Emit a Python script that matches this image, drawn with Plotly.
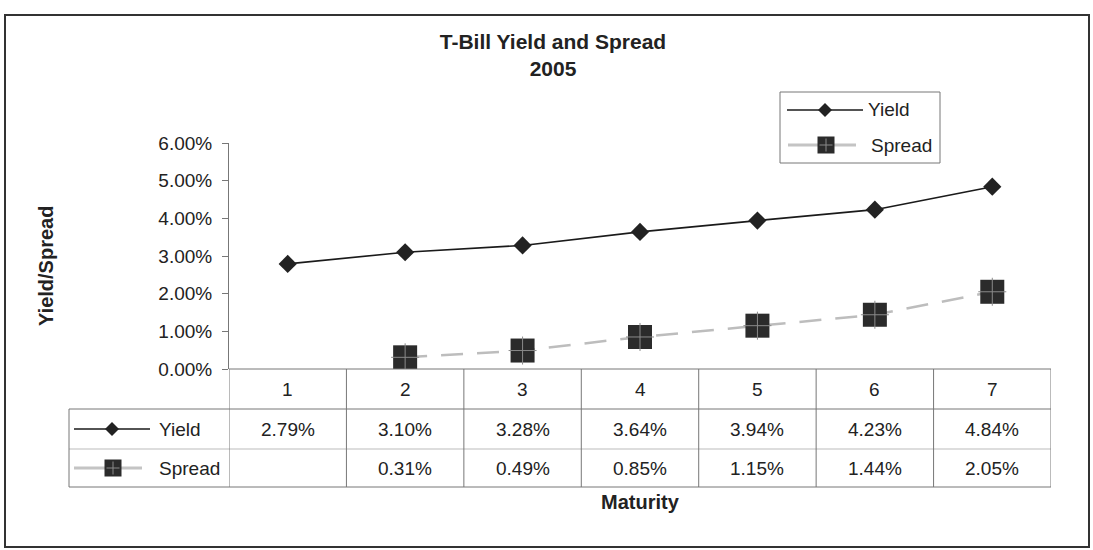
import plotly.graph_objects as go

# ---- data ----
maturity = ["1", "2", "3", "4", "5", "6", "7"]
yield_vals = [0.0279, 0.0310, 0.0328, 0.0364, 0.0394, 0.0423, 0.0484]
spread_vals = [None, 0.0031, 0.0049, 0.0085, 0.0115, 0.0144, 0.0205]
y_ticks = [0.0, 0.01, 0.02, 0.03, 0.04, 0.05, 0.06]
title_lines = ["T-Bill Yield and Spread", "2005"]
series_names = ["Yield", "Spread"]

W, H = 1093, 550
OFF = 0  # body margin removed via post_script
FONT = "Liberation Sans, Arial, sans-serif"
TXT = "#222222"


def px(x):
    return (x - OFF) / W


def py(y):
    return 1 - (y - OFF) / H


# plot area in screen pixels
PL, PR, PT, PB = 229, 1051, 143, 369
ROW1, ROW2, ROW3 = 409, 449, 487
TAB_L = 69

fig = go.Figure()

fig.add_trace(go.Scatter(
    x=maturity, y=yield_vals, name=series_names[0], mode="lines+markers",
    line=dict(color="#1a1a1a", width=1.6),
    marker=dict(symbol="diamond", size=14, color="#222222"),
    showlegend=False,
))
fig.add_trace(go.Scatter(
    x=maturity, y=spread_vals, name=series_names[1], mode="lines+markers",
    line=dict(color="#bdbdbd", width=2.5, dash="22px,14px"),
    marker=dict(symbol="square", size=24, color="#2b2b2b"),
    showlegend=False, connectgaps=False,
))
fig.add_trace(go.Scatter(
    x=maturity, y=spread_vals, mode="markers", hoverinfo="skip",
    marker=dict(symbol="cross-thin", size=20, line=dict(color="#8a8a8a", width=1)),
    showlegend=False,
))

shapes = []
annotations = []


def text(x, y, s, size=19, xanchor="center", xref="paper", bold=False, angle=0):
    annotations.append(dict(
        x=x, y=y, xref=xref, yref="paper", xanchor=xanchor, yanchor="middle",
        text=("<b>%s</b>" % s) if bold else s, showarrow=False, textangle=angle,
        font=dict(size=size, color=TXT, family=FONT)))


def hline(x0, x1, y, color="#777777", width=1):
    shapes.append(dict(type="line", xref="paper", yref="paper",
                       x0=px(x0), x1=px(x1), y0=py(y), y1=py(y),
                       line=dict(color=color, width=width)))


def vline_x(xcat, y0, y1, color="#777777", width=1):
    shapes.append(dict(type="line", xref="x", yref="paper",
                       x0=xcat, x1=xcat, y0=py(y0), y1=py(y1),
                       line=dict(color=color, width=width)))


def key(kind, x0, x1, yc, mx, msize):
    if kind == "yield":
        shapes.append(dict(type="line", xref="paper", yref="paper",
                           x0=px(x0), x1=px(x1), y0=py(yc), y1=py(yc),
                           line=dict(color="#1a1a1a", width=1.6)))
        h = msize / 2
        path = "M {} {} L {} {} L {} {} L {} {} Z".format(
            px(mx - h), py(yc), px(mx), py(yc - h), px(mx + h), py(yc), px(mx), py(yc + h))
        shapes.append(dict(type="path", xref="paper", yref="paper", path=path,
                           fillcolor="#222222", line=dict(width=0)))
    else:
        shapes.append(dict(type="line", xref="paper", yref="paper",
                           x0=px(x0), x1=px(x1), y0=py(yc), y1=py(yc),
                           line=dict(color="#c4c4c4", width=3)))
        h = msize / 2
        shapes.append(dict(type="rect", xref="paper", yref="paper",
                           x0=px(mx - h), x1=px(mx + h), y0=py(yc + h), y1=py(yc - h),
                           fillcolor="#2b2b2b", line=dict(width=0)))
        shapes.append(dict(type="line", xref="paper", yref="paper",
                           x0=px(mx - h + 2), x1=px(mx + h - 2), y0=py(yc), y1=py(yc),
                           line=dict(color="#8a8a8a", width=1)))
        shapes.append(dict(type="line", xref="paper", yref="paper",
                           x0=px(mx), x1=px(mx), y0=py(yc - h + 2), y1=py(yc + h - 2),
                           line=dict(color="#8a8a8a", width=1)))


# outer chart border
shapes.append(dict(type="rect", xref="paper", yref="paper",
                   x0=px(5), x1=px(1089), y0=py(547), y1=py(15),
                   line=dict(color="#333333", width=2)))

# data table grid
n = len(maturity)
hline(PL, PR, PB, color="#777777")
hline(TAB_L, PR, ROW1, color="#777777")
hline(TAB_L, PR, ROW2, color="#bbbbbb")
hline(TAB_L, PR, ROW3, color="#777777")
shapes.append(dict(type="line", xref="paper", yref="paper",
                   x0=px(TAB_L), x1=px(TAB_L), y0=py(ROW1), y1=py(ROW3),
                   line=dict(color="#777777", width=1)))
for i in range(n + 1):
    vline_x(i - 0.5, PB, ROW3)

# table text (x given as category index)
for i, cat in enumerate(maturity):
    text(i, py((PB + ROW1) / 2), cat, xref="x")
    text(i, py((ROW1 + ROW2) / 2), "{:.2%}".format(yield_vals[i]), xref="x")
    if spread_vals[i] is not None:
        text(i, py((ROW2 + ROW3) / 2), "{:.2%}".format(spread_vals[i]), xref="x")

# table row headers
key("yield", 74, 150, (ROW1 + ROW2) / 2, 112, 14)
key("spread", 74, 142, (ROW2 + ROW3) / 2, 113, 17)
text(px(157), py((ROW1 + ROW2) / 2), series_names[0], xanchor="left")
text(px(157), py((ROW2 + ROW3) / 2), series_names[1], xanchor="left")

# legend box
shapes.append(dict(type="rect", xref="paper", yref="paper",
                   x0=px(780), x1=px(940), y0=py(163), y1=py(92),
                   line=dict(color="#777777", width=1)))
key("yield", 787, 863, 110, 825, 14)
key("spread", 788, 856, 145, 826, 17)
text(px(866), py(110), series_names[0], xanchor="left")
text(px(869), py(145), series_names[1], xanchor="left")

# axis titles
text(px(640), py(502), "Maturity", size=20, bold=True)
text(px(46), py(266), "Yield/Spread", size=20, bold=True, angle=-90)

fig.update_layout(
    width=W, height=H,
    margin=dict(l=0, r=0, t=0, b=0, pad=0, autoexpand=False),
    paper_bgcolor="white", plot_bgcolor="white",
    font=dict(family=FONT, color=TXT, size=19),
    title=dict(text="<b>{}</b><br><b>{}</b>".format(*title_lines),
               x=px(553), xanchor="center", xref="paper",
               y=py(49), yanchor="top", yref="paper",
               font=dict(size=21, color=TXT, family=FONT)),
    xaxis=dict(domain=[px(PL), px(PR)], type="category", categoryorder="array",
               categoryarray=maturity, range=[-0.5, n - 0.5], automargin=False,
               showticklabels=False, showgrid=False, zeroline=False,
               showline=False, ticks=""),
    yaxis=dict(domain=[py(PB), py(PT)], range=[0, 0.06], automargin=False,
               tickvals=y_ticks, tickformat=".2%",
               showgrid=False, zeroline=False,
               showline=True, linecolor="#777777", linewidth=1,
               ticks="outside", ticklen=6, tickcolor="#777777",
               ticklabelstandoff=6,
               tickfont=dict(size=19, color=TXT, family=FONT)),
    shapes=shapes,
    annotations=annotations,
)

fig.write_html("out.html", config={"displayModeBar": False},
               post_script="document.body.style.margin='0';")
